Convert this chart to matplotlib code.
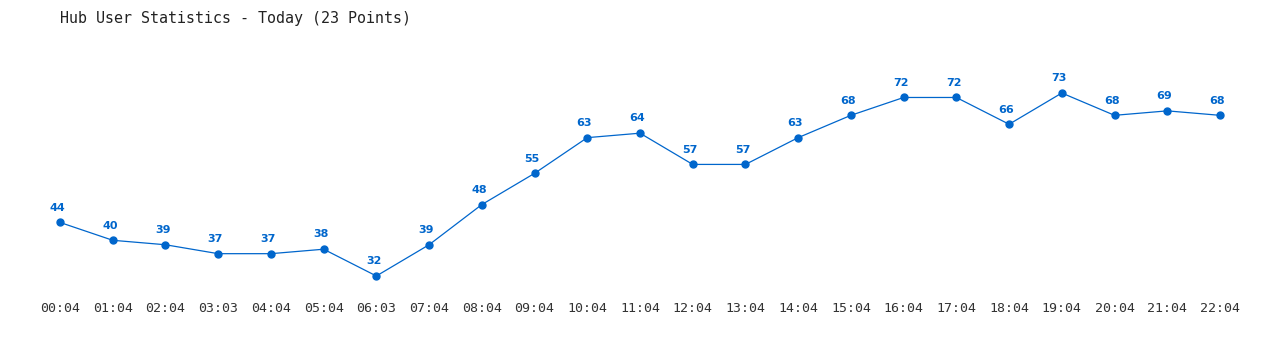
import matplotlib
matplotlib.use("Agg")
import matplotlib.pyplot as plt

times = ["00:04", "01:04", "02:04", "03:03", "04:04", "05:04", "06:03", "07:04",
         "08:04", "09:04", "10:04", "11:04", "12:04", "13:04", "14:04", "15:04",
         "16:04", "17:04", "18:04", "19:04", "20:04", "21:04", "22:04"]
users = [44, 40, 39, 37, 37, 38, 32, 39, 48, 55, 63, 64, 57, 57, 63, 68,
         72, 72, 66, 73, 68, 69, 68]

BLUE = "#0066cc"

fig = plt.figure(figsize=(12.8, 3.5), dpi=100)
ax = fig.add_axes([0, 55 / 350, 1, 265 / 350])

x = list(range(len(users)))
ax.plot(x, users, color=BLUE, lw=0.9, marker="o", ms=5, mec=BLUE, mfc=BLUE)
for xi, v in zip(x, users):
    ax.annotate(str(v), (xi, v), xytext=(-2, 7), textcoords="offset points",
                ha="center", va="bottom", color=BLUE, fontsize=8,
                fontweight="bold", family="DejaVu Sans")

ax.set_xlim(-1.138, 23.138)
ax.set_ylim(27.74, 87.12)
ax.set_xticks(x)
ax.set_xticklabels(times, family="DejaVu Sans Mono", fontsize=9.5, color="#333333")
ax.tick_params(axis="x", length=0, pad=5)
ax.set_yticks([])
for s in ax.spines.values():
    s.set_visible(False)

fig.text(60 / 1280, 1 - 18 / 350, "Hub User Statistics - Today (23 Points)",
         family="DejaVu Sans Mono", fontsize=10.8, color="#222222",
         ha="left", va="center")

fig.savefig("out.png", dpi=100)
